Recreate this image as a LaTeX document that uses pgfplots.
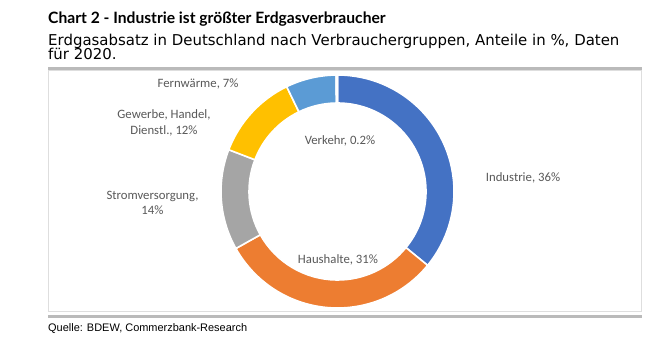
\documentclass[border=0pt]{standalone}
\usepackage{pgfplots}
\usepackage{pgfplotstable}
\usepackage{fontspec}
\pgfplotsset{compat=1.18}
\setmainfont{Carlito}
\newfontfamily\titlefont{Lato}
\newfontfamily\subfont{DejaVu Sans}
\newfontfamily\srcfont{Liberation Sans}
\definecolor{sc0}{HTML}{4472C4}
\definecolor{sc1}{HTML}{ED7D31}
\definecolor{sc2}{HTML}{A5A5A5}
\definecolor{sc3}{HTML}{FFC000}
\definecolor{sc4}{HTML}{5B9BD5}
\definecolor{sc5}{HTML}{70AD47}
\definecolor{lbl}{HTML}{595959}
\pgfplotstableread{
value
36
31
14
12
7
0.2
}\datatbl
\begin{document}
\begin{tikzpicture}[x=1bp,y=1bp]
\path[use as bounding box, fill=white] (0,0) rectangle (664,347);
% frame
\draw[draw=black!13, line width=0.8bp] (48.5,36) rectangle (641,277);
\draw[draw=black!27, line width=3bp] (48,278.5) -- (642,278.5);
\draw[draw=black!27, line width=3bp] (48,31) -- (642,31);
% titles
\node[anchor=base west, inner sep=0pt, font=\titlefont\bfseries\fontsize{15.7}{17}\selectfont] at (48,323.5) {Chart 2 - Industrie ist größter Erdgasverbraucher};
\node[anchor=base west, inner sep=0pt, font=\subfont\fontsize{15}{17}\selectfont] at (48,302) {Erdgasabsatz in Deutschland nach Verbrauchergruppen, Anteile in \%, Daten};
\node[anchor=base west, inner sep=0pt, font=\subfont\fontsize{15}{17}\selectfont] at (48,288) {für 2020.};
\node[anchor=base west, inner sep=0pt, font=\srcfont\fontsize{11}{13}\selectfont] at (48,16) {Quelle: BDEW, Commerzbank-Research};
\begin{axis}[hide axis, x=116.5bp, y=116.5bp, xmin=-1.1, xmax=1.1, ymin=-1.1, ymax=1.1,
  at={(337.5bp,155.5bp)}, anchor=center, scale only axis]
\xdef\acc{0}
\pgfplotsinvokeforeach{0,...,5}{
  \pgfplotstablegetelem{#1}{value}\of\datatbl
  \pgfmathsetmacro\sa{90-\acc/100.2*360}
  \pgfmathsetmacro\sb{90-(\acc+\pgfplotsretval)/100.2*360}
  \pgfmathsetmacro\newacc{\acc+\pgfplotsretval}
  \xdef\acc{\newacc}
  \pgfmathsetmacro\xa{cos(\sa)}\pgfmathsetmacro\ya{sin(\sa)}
  \pgfmathsetmacro\xb{0.7597*cos(\sb)}\pgfmathsetmacro\yb{0.7597*sin(\sb)}
  \edef\tmp{\noexpand\fill[sc#1, draw=white, line width=1.6bp, line join=miter]
    (axis cs:\xa,\ya) arc[start angle=\sa, end angle=\sb, radius=116.5bp]
    -- (axis cs:\xb,\yb) arc[start angle=\sb, end angle=\sa, radius=88.5bp] -- cycle;}
  \tmp
}
\end{axis}
% labels
\begin{scope}[every node/.style={font=\fontsize{12.8}{15.5}\selectfont, text=lbl, align=center, inner sep=0pt}]
\node at (523,169) {Industrie, 36\%};
\node at (338,87) {Haushalte, 31\%};
\node at (152.5,144) {Stromversorgung,\\14\%};
\node at (164,224) {Gewerbe, Handel,\\Dienstl., 12\%};
\node at (198,263) {Fernwärme, 7\%};
\node at (340,206) {Verkehr, 0.2\%};
\end{scope}
\end{tikzpicture}
\end{document}
